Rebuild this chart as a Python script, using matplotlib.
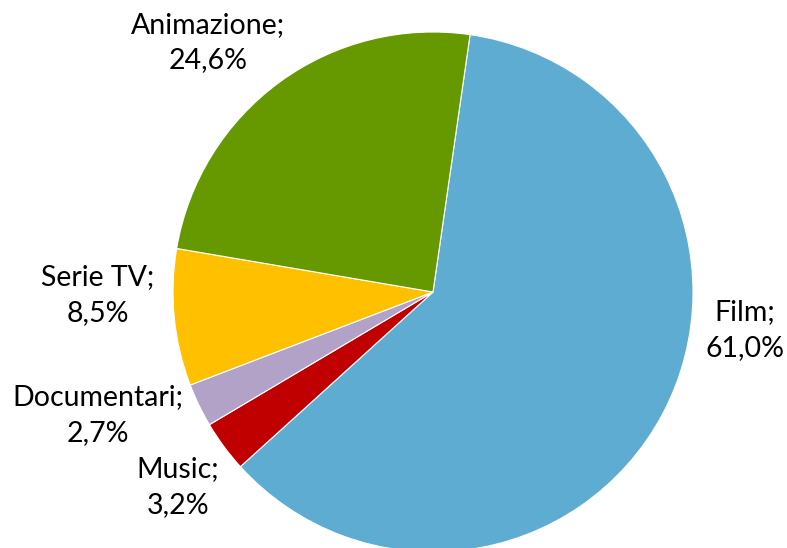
import matplotlib.pyplot as plt

# dati
categorie = ['Film', 'Music', 'Documentari', 'Serie TV', 'Animazione']
valori = [61.0, 3.2, 2.7, 8.5, 24.6]
colori = ['#5FACD3', '#C00000', '#B3A2C7', '#FFC000', '#669900']

# posizione delle etichette (coordinate del grafico, raggio = 1)
pos_etichette = [(1.20, -0.146), (-0.98, -0.75), (-1.29, -0.473),
                 (-1.29, -0.012), (-0.865, 0.96)]

plt.rcParams['font.family'] = ['Lato', 'DejaVu Sans']

fig = plt.figure(figsize=(7.87, 5.48), dpi=100)
ax = fig.add_axes([173 / 787, -4 / 548, 520 / 787, 520 / 548])

ax.pie(valori, colors=colori, startangle=81.8, counterclock=False,
       wedgeprops=dict(edgecolor='white', linewidth=0.8), radius=1)

for nome, v, (x, y) in zip(categorie, valori, pos_etichette):
    testo = '%s;\n%s%%' % (nome, ('%.1f' % v).replace('.', ','))
    ax.text(x, y, testo, ha='center', va='center', fontsize=20.5,
            linespacing=1.45, color='black')

ax.set_xlim(-1, 1)
ax.set_ylim(-1, 1)
ax.set_aspect('equal')
ax.axis('off')

plt.savefig('out.png', dpi=100)
